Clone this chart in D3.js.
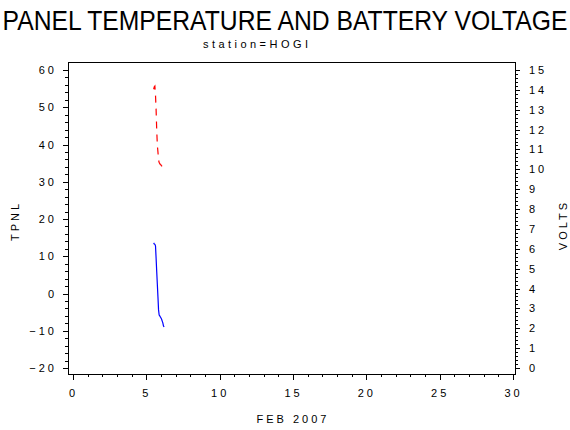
<!DOCTYPE html>
<html>
<head>
<meta charset="utf-8">
<script src="https://cdn.jsdelivr.net/npm/d3@7"></script>
<style>
  body { margin: 0; background: white; }
  svg { display: block; }
  .tick text { font-family: "Liberation Sans", Arial, sans-serif; font-size: 11px; letter-spacing: 3px; fill: black; }
  .domain, .tick line { stroke: black; shape-rendering: crispEdges; }
</style>
</head>
<body>
<div id="chart"></div>
<script>
// Hourly readings, Feb 5 noon through early Feb 6 (day of month)
const febDay = [5.500, 5.542, 5.583, 5.625, 5.667, 5.708, 5.750, 5.792, 5.833,
                5.875, 5.917, 5.958, 6.000, 6.042, 6.083, 6.125, 6.167, 6.208];
// Panel temperature (left axis)
const tpnl = [13.6, 13.3, 13.2, 12.8, 9.4, 5.9, 2.5, -0.9, -4.4,
              -5.8, -6.0, -6.3, -6.6, -6.9, -7.4, -7.9, -8.7, -9.0];
// Battery voltage (right axis)
const volts = [14.03, 14.15, 14.19, 13.74, 12.98, 11.98, 11.22, 10.87, 10.47,
               10.34, 10.29, 10.24, 10.22, 10.17, 10.14, 10.12, 10.09, 10.07];

const xTicks = [0, 5, 10, 15, 20, 25, 30];
const tempTicks = [-20, -10, 0, 10, 20, 30, 40, 50, 60];
const voltTicks = d3.range(0, 16);

const width = 570, height = 430;
const frame = { left: 68, top: 62, right: 515, bottom: 374 };

const svg = d3.select("#chart").append("svg")
    .attr("width", width)
    .attr("height", height);

const x = d3.scaleLinear().domain([0, 30]).range([73, 513]);
const yT = d3.scaleLinear().domain([-20, 60]).range([368, 70]);
const yV = d3.scaleLinear().domain([0, 15]).range([368, 70]);

// titles (stretched vertically to mimic the condensed SAS font)
svg.append("text")
    .attr("transform", "translate(285,30) scale(1,1.13)")
    .attr("text-anchor", "middle")
    .style("font-family", "Liberation Sans, Arial, sans-serif")
    .style("font-size", "24.7px")
    .text("PANEL TEMPERATURE AND BATTERY VOLTAGE");

svg.append("text")
    .attr("x", 203).attr("y", 48)
    .attr("textLength", 105).attr("lengthAdjust", "spacing")
    .style("font-family", "Liberation Sans, Arial, sans-serif")
    .style("font-size", "11px")
    .text("station=HOGI");

// frame
svg.append("rect")
    .attr("x", frame.left).attr("y", frame.top)
    .attr("width", frame.right - frame.left)
    .attr("height", frame.bottom - frame.top)
    .attr("fill", "none").attr("stroke", "black")
    .attr("shape-rendering", "crispEdges");

// bottom axis
const gx = svg.append("g").attr("transform", `translate(0,${frame.bottom})`);
gx.call(d3.axisBottom(x).tickValues(d3.range(0, 31, 1)).tickSize(3).tickFormat(""));
gx.append("g").call(d3.axisBottom(x).tickValues(xTicks).tickSize(6).tickPadding(9).tickFormat(d3.format("d")));
gx.selectAll(".domain").remove();

// left axis
const gl = svg.append("g").attr("transform", `translate(${frame.left},0)`);
gl.call(d3.axisLeft(yT).tickValues(d3.range(-20, 61, 2)).tickSize(3).tickFormat(""));
gl.append("g").call(d3.axisLeft(yT).tickValues(tempTicks).tickSize(5).tickPadding(6).tickFormat(d3.format("d")));
gl.selectAll(".domain").remove();

// right axis
const gr = svg.append("g").attr("transform", `translate(${frame.right},0)`);
gr.call(d3.axisRight(yV).tickValues(d3.range(0, 76).map(i => i * 0.2)).tickSize(3).tickFormat(""));
gr.append("g").call(d3.axisRight(yV).tickValues(voltTicks).tickSize(5).tickPadding(9).tickFormat(d3.format("d")));
gr.selectAll(".domain").remove();

// axis labels
const lab = (t, px, py, rot) => svg.append("text")
    .attr("transform", `translate(${px},${py}) rotate(${rot})`)
    .attr("text-anchor", "middle")
    .style("font-family", "Liberation Sans, Arial, sans-serif")
    .style("font-size", "11px")
    .style("letter-spacing", "3px")
    .text(t);
lab("FEB 2007", 293, 423, 0);
lab("TPNL", 19, 221, -90);
lab("VOLTS", 567, 225, -90);

// series
const tLine = d3.line().x((d, i) => x(febDay[i])).y(d => yT(d));
const vLine = d3.line().x((d, i) => x(febDay[i])).y(d => yV(d));

svg.append("path").datum(tpnl)
    .attr("d", tLine)
    .attr("fill", "none").attr("stroke", "blue").attr("stroke-width", 1.2);

svg.append("path").datum(volts)
    .attr("d", vLine)
    .attr("fill", "none").attr("stroke", "red").attr("stroke-width", 1.2)
    .attr("stroke-dasharray", "7,6");
</script>
</body>
</html>
